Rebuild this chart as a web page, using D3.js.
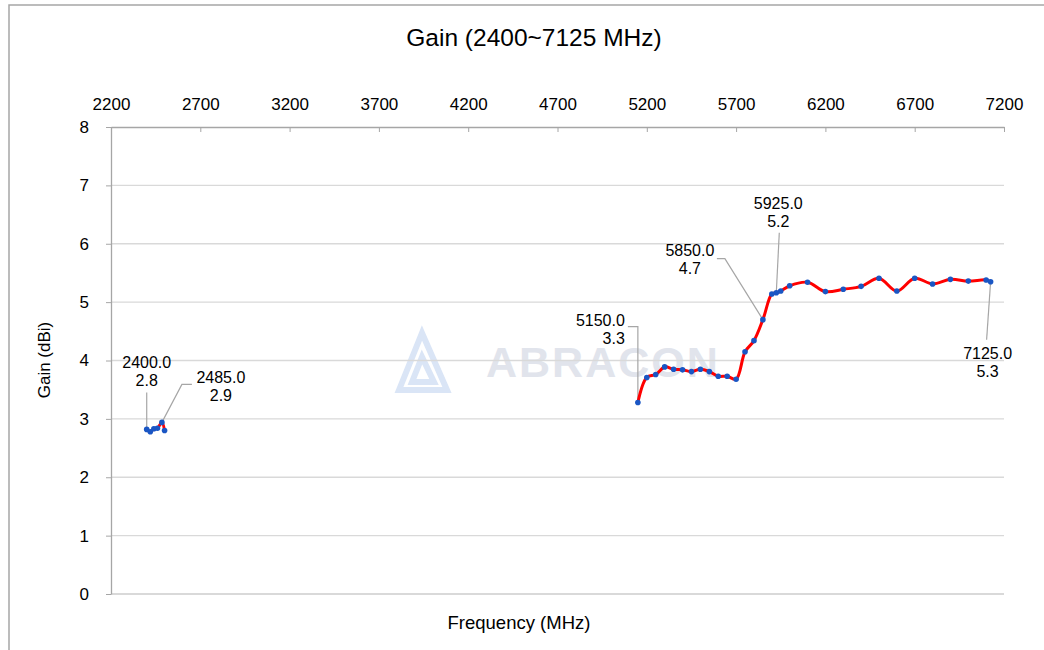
<!DOCTYPE html>
<html>
<head>
<meta charset="utf-8">
<script src="https://cdn.jsdelivr.net/npm/d3@7"></script>
<style>
  body { margin: 0; background: #fff; }
  text { font-family: "Liberation Sans", Arial, sans-serif; fill: #000; }
</style>
</head>
<body>
<div id="chart"></div>
<script>
// measured gain, two bands (gap between 2500 and 5150)
var freq = [2400, 2420, 2440, 2460, 2485, 2500,
            5150, 5200, 5250, 5300, 5350, 5400, 5450, 5500, 5550, 5600, 5650, 5700,
            5750, 5800, 5850, 5900, 5925, 5950, 6000, 6100, 6200, 6300, 6400, 6500,
            6600, 6700, 6800, 6900, 7000, 7100, 7125];
var gain = [2.82, 2.78, 2.83, 2.84, 2.94, 2.80,
            3.28, 3.71, 3.76, 3.89, 3.85, 3.84, 3.81, 3.85, 3.81, 3.73, 3.73, 3.68,
            4.15, 4.34, 4.70, 5.14, 5.16, 5.19, 5.28, 5.34, 5.18, 5.22, 5.27, 5.41,
            5.19, 5.41, 5.31, 5.39, 5.36, 5.38, 5.35];
var xTicks = [2200, 2700, 3200, 3700, 4200, 4700, 5200, 5700, 6200, 6700, 7200];
var yTicks = [0, 1, 2, 3, 4, 5, 6, 7, 8];

// labelled points (index into freq)
var labelIdx = [0, 4, 6, 20, 22, 36];
// label placement relative to the point: text centre (lx, ly of first line), leader path
var labelPos = {
  0:  {lx: 0,   ly: -67, anchor: "middle", leader: [[0, 0], [0, -37]]},
  4:  {lx: 59,  ly: -45, anchor: "middle", leader: [[0, 0], [20, -38], [30, -38]]},
  6:  {lx: -13, ly: -83, anchor: "end",    leader: [[0, 0], [0, -76], [-10, -76]]},
  20: {lx: -73, ly: -70, anchor: "middle", leader: [[0, 0], [-38, -61], [-46, -61]]},
  22: {lx: 2,   ly: -90, anchor: "middle", leader: [[0, 0], [3, -60]]},
  36: {lx: -3,  ly: 71,  anchor: "middle", leader: [[0, 0], [-4, 58]]}
};

var W = 1044, H = 650;
var svg = d3.select("#chart").append("svg").attr("width", W).attr("height", H);

// outer frame
svg.append("rect").attr("x", 9).attr("y", 5).attr("width", 1100).attr("height", 700)
  .attr("fill", "none").attr("stroke", "#a6a6a6").attr("stroke-width", 1.5);

var x = d3.scaleLinear().domain([2200, 7200]).range([111, 1004]);
var y = d3.scaleLinear().domain([0, 8]).range([594, 127]);

// watermark
var wm = svg.append("g");
wm.append("path")
  .attr("d", "M399,390 L422,333 L447,390 Z M412,382 L422,357 L434,382 Z")
  .attr("fill", "none").attr("stroke", "#dae5f6").attr("stroke-width", 6).attr("stroke-linejoin", "miter");
wm.append("text").attr("x", 486).attr("y", 377).attr("font-size", 43).attr("font-weight", "bold")
  .attr("letter-spacing", 2).style("fill", "#e1e4ec").text("ABRACON");

// gridlines
svg.append("g").selectAll("line").data(yTicks.slice(1, -1)).enter().append("line")
  .attr("x1", 111).attr("x2", 1004).attr("y1", d => y(d)).attr("y2", d => y(d))
  .attr("stroke", "#d9d9d9").attr("stroke-width", 1.3);
svg.append("line").attr("x1", 111).attr("x2", 1004).attr("y1", y(0)).attr("y2", y(0))
  .attr("stroke", "#d9d9d9").attr("stroke-width", 2);

// top x axis
var xAxis = svg.append("g").attr("transform", "translate(0," + y(8) + ")")
  .call(d3.axisTop(x).tickValues(xTicks).tickFormat(d3.format("d")).tickSizeInner(-5).tickSizeOuter(0));
xAxis.select(".domain").attr("stroke", "#a6a6a6").attr("stroke-width", 1.5);
xAxis.selectAll(".tick line").attr("stroke", "#a6a6a6");
xAxis.selectAll("text").attr("font-size", 17).attr("font-family", "Liberation Sans, Arial, sans-serif")
  .attr("dy", "0").attr("y", -17);

// left y axis
var yAxis = svg.append("g").attr("transform", "translate(" + x(2200) + ",0)")
  .call(d3.axisLeft(y).tickValues(yTicks).tickSizeInner(5).tickSizeOuter(0).tickPadding(17));
yAxis.select(".domain").attr("stroke", "#a6a6a6").attr("stroke-width", 1.3);
yAxis.selectAll(".tick line").attr("stroke", "#a6a6a6");
yAxis.selectAll("text").attr("font-size", 17).attr("font-family", "Liberation Sans, Arial, sans-serif");

// titles
svg.append("text").attr("x", 534).attr("y", 46).attr("text-anchor", "middle")
  .attr("font-size", 24.5).text("Gain (2400~7125 MHz)");
svg.append("text").attr("x", 519).attr("y", 629).attr("text-anchor", "middle")
  .attr("font-size", 18.5).text("Frequency (MHz)");
svg.append("text").attr("transform", "translate(50,360) rotate(-90)").attr("text-anchor", "middle")
  .attr("font-size", 17).text("Gain (dBi)");

// data
var pts = freq.map((f, i) => ({f: f, g: gain[i]}));
var bands = [pts.filter(d => d.f < 3000), pts.filter(d => d.f > 5000)];

var line = d3.line().x(d => x(d.f)).y(d => y(d.g)).curve(d3.curveCatmullRom.alpha(0.5));

// callout leaders (under series)
var lead = svg.append("g");
labelIdx.forEach(function (i) {
  var p = labelPos[i], px = x(freq[i]), py = y(gain[i]);
  lead.append("path").attr("d", d3.line()(p.leader.map(q => [px + q[0], py + q[1]])))
    .attr("fill", "none").attr("stroke", "#a6a6a6").attr("stroke-width", 1.2);
});

svg.append("g").selectAll("path").data(bands).enter().append("path")
  .attr("d", line).attr("fill", "none").attr("stroke", "#ff0000").attr("stroke-width", 3);

svg.append("g").selectAll("circle").data(pts).enter().append("circle")
  .attr("cx", d => x(d.f)).attr("cy", d => y(d.g)).attr("r", 2.8).attr("fill", "#1a56c4");

// callout labels
var lab = svg.append("g");
labelIdx.forEach(function (i) {
  var p = labelPos[i], px = x(freq[i]), py = y(gain[i]);
  var t = lab.append("text").attr("text-anchor", p.anchor).attr("font-size", 16);
  t.append("tspan").attr("x", px + p.lx).attr("y", py + p.ly + 6).text(freq[i].toFixed(1));
  t.append("tspan").attr("x", px + p.lx).attr("y", py + p.ly + 24).text(gain[i].toFixed(1));
});
</script>
</body>
</html>
